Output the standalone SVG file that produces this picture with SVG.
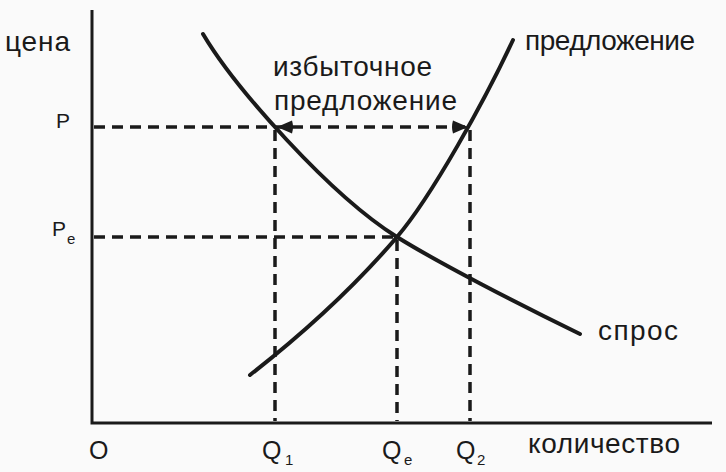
<svg xmlns="http://www.w3.org/2000/svg" width="726" height="472" viewBox="0 0 726 472">
<style>
.t{font-family:"Liberation Sans",Arial,sans-serif;font-size:28px;fill:#1a1a1a}
.l{font-family:"Liberation Sans",Arial,sans-serif;font-size:25px;fill:#1a1a1a}
.p{font-family:"Liberation Sans",Arial,sans-serif;font-size:21px;fill:#1a1a1a}
.s{font-family:"Liberation Sans",Arial,sans-serif;font-size:15px;fill:#1a1a1a}
.ax{stroke:#1a1a1a;stroke-width:3;fill:none}
.cv{stroke:#1a1a1a;stroke-width:4;fill:none;stroke-linecap:round}
.d{stroke:#1a1a1a;stroke-width:3.5;fill:none;stroke-dasharray:11 7}
</style>
<rect width="726" height="472" fill="#fafafa"/>
<g id="axes">
<path class="ax" d="M92,10 V423 H712"/>
</g>
<g id="connectors">
<path class="d" d="M94,127 H470"/>
<path class="d" d="M94,237 H397"/>
<path class="d" d="M275,130 V421"/>
<path class="d" d="M397,240 V421"/>
<path class="d" d="M470,130 V421"/>
<path d="M277,127 L292,120.5 Q294,127 292,133.5 Z" fill="#1a1a1a"/>
<path d="M468,127 L453,120.5 Q451,127 453,133.5 Z" fill="#1a1a1a"/>
</g>
<g id="demand">
<path class="cv" d="M203,34 C235,88 330,195 397,237 C437,262 520,305 580,334"/>
</g>
<g id="supply">
<path class="cv" d="M250,375 C300,336 355,286 397,237 C432,196 485,100 513,40"/>
</g>
<g id="labels">
<text class="t" x="5" y="51" textLength="65">цена</text>
<text class="p" x="56" y="128">P</text>
<text class="p" x="52" y="236">P</text><text class="s" x="67" y="244">e</text>
<text class="l" x="89" y="459">O</text>
<text class="l" x="262" y="459">Q</text><text class="s" x="285" y="465">1</text>
<text class="l" x="382" y="459">Q</text><text class="s" x="404" y="465">e</text>
<text class="l" x="456" y="459">Q</text><text class="s" x="477" y="465">2</text>
<text class="t" x="528" y="453" textLength="152">количество</text>
<text class="t" x="525" y="50" textLength="170">предложение</text>
<text class="t" x="273" y="76" textLength="159">избыточное</text>
<text class="t" x="274" y="110" textLength="183">предложение</text>
<text class="t" x="598" y="340" textLength="80">спрос</text>
</g>
</svg>
